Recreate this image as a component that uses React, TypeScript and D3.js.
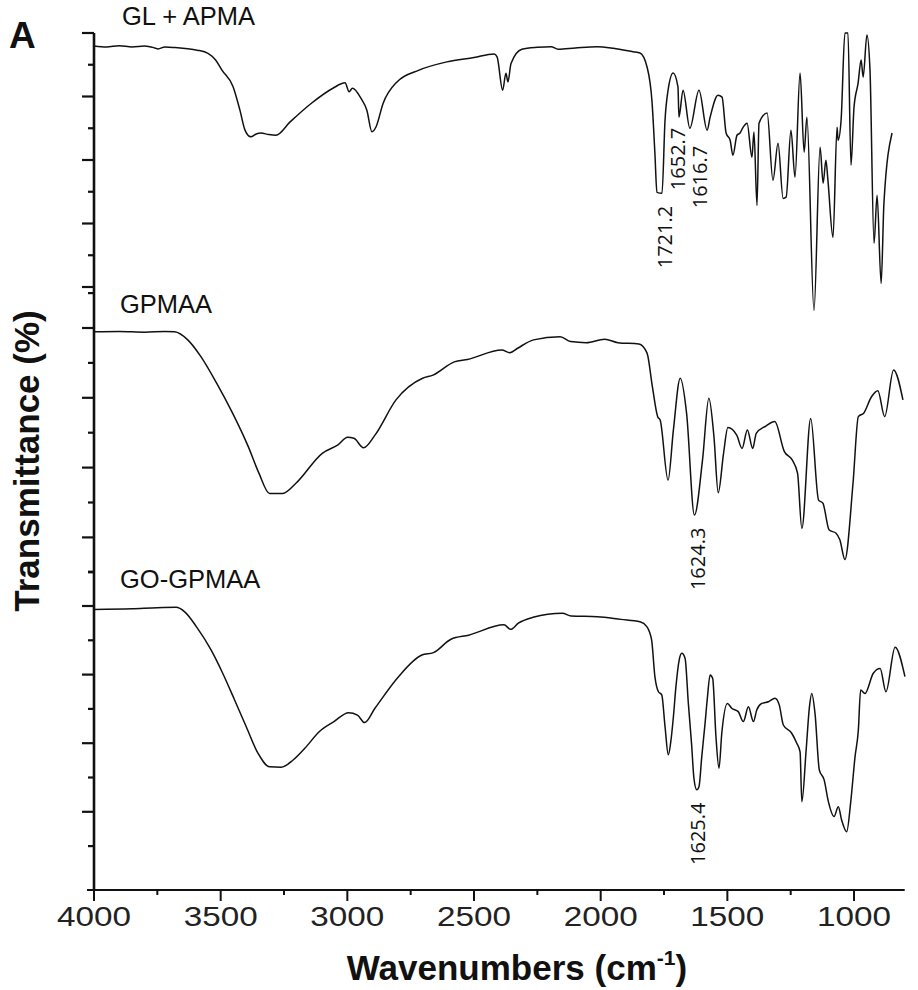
import React from "react";
import * as d3 from "d3";

// ---- data (wavenumber cm-1, transmittance in panel units) ----
const GL_APMA: [number, number][] = [
  [4000,95.9],[3950,95.6],[3900,96.0],[3850,95.6],[3800,95.9],[3760,95.3],[3747,95.0],[3720,95.6],[3680,95.4],[3640,95.1],[3593,94.6],[3550,93.6],[3520,91.5],[3495,88.3],[3451,83.1],[3424,75.7],[3404,69.4],[3381,67.3],[3360,68.2],[3341,68.5],[3310,68.0],[3282,67.8],[3226,72.0],[3143,77.8],[3057,82.6],[3009,84.3],[2993,81.5],[2980,82.6],[2946,79.4],[2923,75.7],[2903,68.9],[2887,70.4],[2859,77.8],[2804,84.6],[2717,88.3],[2607,90.9],[2500,92.3],[2421,93.4],[2409,92.5],[2387,82.0],[2374,87.3],[2366,84.6],[2354,90.4],[2311,94.9],[2250,95.5],[2196,95.7],[2168,94.9],[2100,95.3],[2014,95.7],[1950,95.2],[1872,94.1],[1845,93.7],[1817,89.3],[1797,77.9],[1786,62.1],[1778,49.8],[1758,49.5],[1746,72.6],[1734,82.0],[1714,87.4],[1695,83.0],[1691,73.5],[1675,82.0],[1648,70.0],[1612,82.0],[1580,69.4],[1568,73.5],[1537,80.4],[1521,79.8],[1505,68.5],[1489,66.2],[1478,61.5],[1462,67.8],[1450,68.5],[1438,70.3],[1422,71.6],[1403,60.9],[1395,68.8],[1383,45.7],[1375,71.6],[1343,74.8],[1320,53.6],[1300,65.3],[1280,47.9],[1268,48.3],[1249,69.4],[1233,54.6],[1213,87.4],[1197,62.5],[1186,73.5],[1158,12.6],[1134,64.0],[1122,52.7],[1111,59.9],[1103,53.6],[1083,35.6],[1067,70.3],[1063,66.2],[1051,72.6],[1036,100],[1024,100],[1012,58.4],[1000,76.7],[984,84.2],[972,91.5],[964,86.1],[949,99.4],[937,88.3],[921,33.8],[909,48.9],[893,21.1],[882,46.4],[850,68.5]
];

const GPMAA: [number, number][] = [
  [4000,98.9],[3900,99.0],[3800,98.8],[3720,99.0],[3682,98.9],[3630,96.6],[3578,91.8],[3516,84.2],[3453,75.6],[3391,66.0],[3349,58.4],[3307,52.6],[3255,52.6],[3203,55.5],[3099,64.1],[3037,66.5],[2999,68.7],[2974,68.4],[2936,65.7],[2891,69.3],[2808,79.4],[2703,85.6],[2662,86.5],[2578,90.3],[2526,91.0],[2390,93.7],[2359,92.9],[2328,94.2],[2265,96.6],[2160,97.5],[2119,96.1],[2057,95.8],[1984,96.8],[1932,95.8],[1849,95.4],[1817,92.8],[1796,83.2],[1775,74.6],[1765,73.6],[1734,56.4],[1713,70.8],[1686,85.6],[1661,75.6],[1630,46.4],[1598,62.2],[1573,79.9],[1553,68.9],[1536,52.8],[1515,64.1],[1498,71.5],[1463,69.3],[1442,65.5],[1421,70.8],[1400,65.5],[1386,69.8],[1348,71.9],[1313,73.2],[1275,64.6],[1244,62.2],[1223,58.4],[1206,42.6],[1171,74.1],[1140,50.7],[1123,49.8],[1098,42.1],[1071,41.2],[1056,39.3],[1036,33.7],[1004,55.5],[983,74.6],[962,75.6],[931,80.3],[906,82.0],[879,74.6],[844,88.0],[807,79.4]
];

const GO_GPMAA: [number, number][] = [
  [4000,99.0],[3850,99.2],[3750,99.5],[3676,99.6],[3642,98.3],[3596,94.0],[3538,87.2],[3492,80.4],[3445,72.6],[3399,64.8],[3353,57.1],[3307,53.1],[3261,53.0],[3214,55.1],[3168,58.5],[3110,63.4],[3053,66.3],[2995,68.9],[2960,68.2],[2932,66.0],[2891,70.2],[2798,79.4],[2706,85.7],[2660,86.4],[2591,90.3],[2521,91.5],[2382,94.5],[2355,93.2],[2325,95.0],[2267,96.7],[2151,97.9],[2117,97.1],[2013,96.9],[1920,96.1],[1845,95.4],[1818,94.0],[1799,90.1],[1786,79.4],[1772,75.0],[1759,74.1],[1746,64.8],[1733,56.6],[1724,60.0],[1713,67.7],[1703,76.5],[1690,84.3],[1680,86.2],[1667,84.8],[1654,71.6],[1641,59.5],[1632,49.8],[1621,46.4],[1612,47.3],[1601,56.1],[1588,65.8],[1579,73.1],[1568,79.9],[1558,78.9],[1545,61.9],[1533,52.7],[1522,62.9],[1500,71.6],[1483,70.2],[1457,69.2],[1437,66.3],[1417,70.6],[1397,66.3],[1384,69.7],[1364,71.6],[1338,72.1],[1312,73.1],[1295,71.1],[1279,65.3],[1246,62.9],[1226,60.0],[1213,57.5],[1206,42.9],[1189,58.0],[1176,70.6],[1167,74.5],[1154,68.7],[1137,52.2],[1118,49.3],[1101,42.9],[1079,38.6],[1062,41.5],[1049,37.6],[1029,34.2],[1013,42.9],[996,56.1],[983,63.8],[974,75.5],[957,74.5],[924,80.4],[897,81.8],[874,75.0],[838,88.0],[799,79.4]
];

const SERIES_NAMES = ["GL + APMA", "GPMAA", "GO-GPMAA"];

// y tick values per panel
const TOP_TICKS = [100, 90, 80, 70, 60, 50, 40, 30, 20];
const MID_TICKS = [110, 100, 90, 80, 70, 60, 50, 40, 30];
const BOT_TICKS = [110, 100, 90, 80, 70, 60, 50, 40, 30];

// x ticks
const X_TICKS = [4000, 3750, 3500, 3250, 3000, 2750, 2500, 2250, 2000, 1750, 1500, 1250, 1000];
const X_LABELS = ["4000", "3500", "3000", "2500", "2000", "1500", "1000"];

// peak annotations: [panel index, text, wavenumber position, value position]
const ANNOTATIONS: [number, string, number, number][] = [
  [0, "1721.2", 1718, 25.9],
  [0, "1652.7", 1667, 50.5],
  [0, "1616.7", 1580, 44.8],
  [1, "1624.3", 1588, 24.9],
  [2, "1625.4", 1588, 24.5],
];

export default function App() {
  const W = 918, H = 990;
  const x = d3.scaleLinear().domain([4000, 800]).range([94, 904.7]);
  const yScales = [
    d3.scaleLinear().domain([100, 20]).range([33, 287]),
    d3.scaleLinear().domain([100, 30]).range([328, 572.3]),
    d3.scaleLinear().domain([100, 30]).range([606, 846.1]),
  ];
  const datasets = [GL_APMA, GPMAA, GO_GPMAA];
  const tickSets = [TOP_TICKS, MID_TICKS, BOT_TICKS];
  const labelPos = [
    [122, 25],
    [120, 313],
    [120, 588],
  ];
  const axisY = 890;

  const lines = datasets.map((d, i) =>
    d3
      .line<[number, number]>()
      .x((p) => x(p[0]))
      .y((p) => yScales[i](p[1]))
      .curve(d3.curveMonotoneX)(d) as string
  );

  return (
    <svg
      width={W}
      height={H}
      viewBox={`0 0 ${W} ${H}`}
      style={{ position: "absolute", left: 0, top: 0, background: "#fff" }}
    >
      <rect x={0} y={0} width={W} height={H} fill="#fff" />
      {/* panel letter */}
      <text x={9} y={48} fontFamily="Liberation Sans, Arial, sans-serif" fontWeight="bold" fontSize={37} fill="#111">
        A
      </text>

      {/* y axis line */}
      <line x1={94} x2={94} y1={33} y2={axisY} stroke="#111" strokeWidth={2.6} />
      {tickSets.map((ts, i) =>
        ts.map((t) => {
          const major = Math.round((100 - t) / 10) % 2 === 0;
          const yy = yScales[i](t);
          return (
            <line
              key={`yt${i}-${t}`}
              x1={major ? 82 : 88}
              x2={94}
              y1={yy}
              y2={yy}
              stroke="#111"
              strokeWidth={2.2}
            />
          );
        })
      )}

      {/* x axis */}
      <line x1={87} x2={904.7} y1={axisY} y2={axisY} stroke="#111" strokeWidth={2} />
      {X_TICKS.map((t) => {
        const major = t % 500 === 0;
        return (
          <line
            key={`xt${t}`}
            x1={x(t)}
            x2={x(t)}
            y1={axisY}
            y2={axisY + (major ? 11 : 5)}
            stroke="#111"
            strokeWidth={2}
          />
        );
      })}
      {X_LABELS.map((l) => (
        <text
          key={`xl${l}`}
          x={x(+l)}
          y={926}
          textAnchor="middle"
          fontFamily="Liberation Sans, Arial, sans-serif"
          fontSize={27}
          textLength={74}
          lengthAdjust="spacingAndGlyphs"
          fill="#222"
        >
          {l}
        </text>
      ))}

      {/* axis titles */}
      <text
        x={517}
        y={980}
        textAnchor="middle"
        fontFamily="Liberation Sans, Arial, sans-serif"
        fontWeight="bold"
        fontSize={35}
        fill="#111"
      >
        Wavenumbers (cm
        <tspan fontSize={21} dy={-15}>-1</tspan>
        <tspan dy={15}>)</tspan>
      </text>
      <text
        transform="translate(39,461) rotate(-90)"
        textAnchor="middle"
        fontFamily="Liberation Sans, Arial, sans-serif"
        fontWeight="bold"
        fontSize={35}
        fill="#111"
      >
        Transmittance (%)
      </text>

      {/* spectra */}
      {lines.map((p, i) => (
        <path key={`ln${i}`} d={p} fill="none" stroke="#111" strokeWidth={1.5} strokeLinejoin="round" />
      ))}

      {/* series labels */}
      {SERIES_NAMES.map((n, i) => (
        <text
          key={`sn${i}`}
          x={labelPos[i][0]}
          y={labelPos[i][1]}
          fontFamily="Liberation Sans, Arial, sans-serif"
          fontSize={25.5}
          fill="#111"
        >
          {n}
        </text>
      ))}

      {/* peak annotations */}
      {ANNOTATIONS.map(([pi, txt, wn, v], k) => (
        <text
          key={`an${k}`}
          transform={`translate(${x(wn)},${yScales[pi](v)}) rotate(-90)`}
          fontFamily="Open Sans, Noto Sans, sans-serif"
          fontSize={20}
          fill="#111"
        >
          {txt}
        </text>
      ))}
    </svg>
  );
}
